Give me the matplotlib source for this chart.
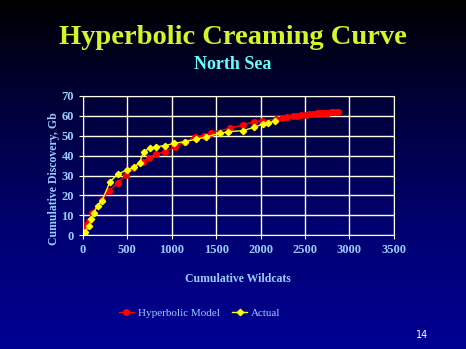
import numpy as np
import matplotlib.pyplot as plt
from matplotlib.colors import LinearSegmentedColormap

# hyperbolic model (red)
model_x = [15, 30, 64, 101, 210, 293, 391, 484, 560, 680, 745, 820, 921, 1033, 1145,
           1258, 1359, 1444, 1653, 1804, 1923, 2017, 2173, 2236, 2300, 2360, 2410, 2460,
           2510, 2550, 2590, 2630, 2670, 2700, 2730, 2760, 2790, 2820, 2850, 2870]
model_y = [1.0, 5.0, 7.2, 11.0, 17.7, 22.3, 26.4, 30.3, 33.6, 37.0, 38.7, 40.7, 42.0, 44.2, 47.0,
           49.2, 49.9, 51.6, 53.8, 55.4, 57.1, 57.4, 58.3, 58.8, 59.3, 59.7, 60.0, 60.3,
           60.6, 60.8, 61.0, 61.2, 61.3, 61.4, 61.5, 61.6, 61.7, 61.8, 61.8, 61.9]

# actual (yellow)
actual_x = [7, 22, 72, 90, 120, 165, 214, 304, 394, 492, 574, 638, 683, 751, 827, 921,
            1025, 1145, 1270, 1390, 1540, 1633, 1804, 1923, 2028, 2085, 2168]
actual_y = [0.6, 1.8, 4.7, 8.0, 11.3, 14.7, 17.3, 26.8, 30.8, 32.7, 34.2, 36.5, 42.0, 43.7,
            44.5, 45.0, 46.2, 47.0, 48.2, 49.5, 51.2, 52.0, 52.6, 54.2, 55.9, 56.3, 57.6]

label_blue = '#99CCFF'
grid_col = '#FFFFE8'

fig = plt.figure(figsize=(4.66, 3.49), dpi=100)

# slide background: black at the top fading to blue
bg = fig.add_axes([0, 0, 1, 1], zorder=-1)
grad = np.linspace(0, 1, 256).reshape(-1, 1)
cmap = LinearSegmentedColormap.from_list('bg', [(0, 0, 0), (0, 0, 0.25), (0, 0, 0.45), (0, 0, 0.58)])
bg.imshow(grad, aspect='auto', cmap=cmap, extent=[0, 1, 0, 1], origin='upper')
bg.axis('off')

ax = fig.add_axes([0.178, 0.326, 0.667, 0.399])
ax.patch.set_alpha(0)

ax.plot(model_x, model_y, color='red', marker='o', markersize=4, linewidth=1, label='Hyperbolic Model')
ax.plot(actual_x, actual_y, color='yellow', marker='D', markersize=3.2, linewidth=1, label='Actual')

ax.set_xlim(0, 3500)
ax.set_ylim(0, 70)
ax.set_xticks(range(0, 3501, 500))
ax.set_yticks(range(0, 71, 10))
ax.grid(True, color=grid_col, linewidth=1)
ax.set_axisbelow(True)
for s in ax.spines.values():
    s.set_color(grid_col)
ax.tick_params(colors=grid_col, labelcolor=label_blue, length=3, labelsize=9)
for lbl in ax.get_xticklabels() + ax.get_yticklabels():
    lbl.set_family('Liberation Serif')
    lbl.set_weight('bold')

ax.set_xlabel('Cumulative Wildcats', color=label_blue, family='Liberation Serif',
              weight='bold', fontsize=8.5, labelpad=12)
ax.set_ylabel('Cumulative Discovery, Gb', color=label_blue, family='Liberation Serif',
              weight='bold', fontsize=8.5)
ax.yaxis.set_label_coords(-0.075, 0.41)

leg = fig.legend(loc='center', bbox_to_anchor=(0.428, 0.103), ncol=2, frameon=False,
                 prop={'family': 'Liberation Serif', 'size': 8}, handlelength=1.4,
                 columnspacing=1.1, handletextpad=0.3)
for t in leg.get_texts():
    t.set_color(label_blue)

fig.text(0.5, 0.893, 'Hyperbolic Creaming Curve', ha='center', va='center',
         color='#D4F52A', family='Liberation Serif', weight='bold', fontsize=20.5)
fig.text(0.5, 0.815, 'North Sea', ha='center', va='center',
         color='#66FFFF', family='Liberation Serif', weight='bold', fontsize=13)
fig.text(0.905, 0.04, '14', ha='center', va='center', color='white', fontsize=7)

fig.savefig('out.png', dpi=100)
